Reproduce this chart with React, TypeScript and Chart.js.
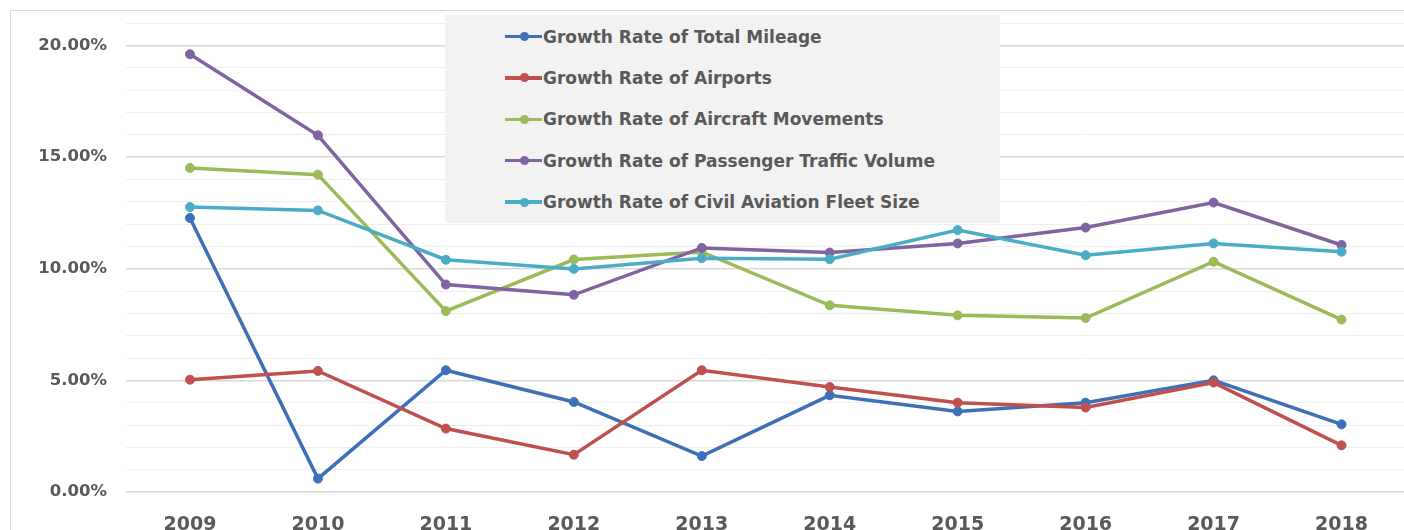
import React, { useEffect, useRef } from "react";
import { Chart, registerables } from "chart.js";

Chart.register(...registerables);

const years = ["2009", "2010", "2011", "2012", "2013", "2014", "2015", "2016", "2017", "2018"];

const totalMileage = [12.27, 0.6, 5.45, 4.03, 1.61, 4.33, 3.61, 4.0, 5.0, 3.03];
const airports = [5.03, 5.42, 2.84, 1.67, 5.45, 4.7, 4.0, 3.78, 4.9, 2.09];
const aircraftMovements = [14.51, 14.21, 8.1, 10.41, 10.75, 8.36, 7.91, 7.79, 10.31, 7.72];
const passengerTraffic = [19.6, 15.97, 9.29, 8.83, 10.93, 10.72, 11.13, 11.84, 12.96, 11.06];
const fleetSize = [12.76, 12.61, 10.4, 9.99, 10.47, 10.42, 11.73, 10.6, 11.13, 10.76];

const seriesNames = [
  "Growth Rate of Total Mileage",
  "Growth Rate of Airports",
  "Growth Rate of Aircraft Movements",
  "Growth Rate of Passenger Traffic Volume",
  "Growth Rate of Civil Aviation Fleet Size",
];
const seriesColors = ["#3D70B7", "#C0504D", "#9BBB59", "#8064A2", "#4BACC6"];
const seriesData = [totalMileage, airports, aircraftMovements, passengerTraffic, fleetSize];

const yMin = 0;
const yMax = 21;
const yStep = 1;
const yLabelEvery = 5;

const FONT = "'DejaVu Sans', sans-serif";
const TEXT_COLOR = "#595959";

export default function App() {
  const ref = useRef<HTMLCanvasElement>(null);

  useEffect(() => {
    if (!ref.current) return;
    const chart = new Chart(ref.current, {
      type: "line",
      data: {
        labels: years,
        datasets: seriesData.map((d, i) => ({
          label: seriesNames[i],
          data: d,
          borderColor: seriesColors[i],
          backgroundColor: seriesColors[i],
          pointBackgroundColor: seriesColors[i],
          pointBorderColor: seriesColors[i],
          borderWidth: 3.5,
          pointRadius: 4.5,
          pointBorderWidth: 1,
          tension: 0,
          fill: false,
          order: seriesData.length - 1 - i,
        })),
      },
      options: {
        responsive: false,
        animation: false,
        devicePixelRatio: 1,
        layout: { padding: { top: 12, right: 2, left: 0, bottom: 0 } },
        plugins: { legend: { display: false }, tooltip: { enabled: false } },
        scales: {
          x: {
            offset: true,
            grid: { display: false },
            border: { display: false },
            ticks: {
              color: TEXT_COLOR,
              font: { family: FONT, weight: "bold", size: 19 },
              padding: 14,
              maxRotation: 0,
              autoSkip: false,
            },
            afterFit: (s: any) => {
              s.height = 40;
              s.paddingLeft = 0;
              s.paddingRight = 0;
            },
          },
          y: {
            min: yMin,
            max: yMax,
            border: { display: false },
            grid: {
              drawTicks: false,
              color: (ctx: any) =>
                Math.round(ctx.tick.value) % yLabelEvery === 0 ? "#d9d9d9" : "#eeeeee",
              lineWidth: (ctx: any) => (Math.round(ctx.tick.value) % yLabelEvery === 0 ? 1.4 : 1),
            },
            ticks: {
              stepSize: yStep,
              autoSkip: false,
              padding: 19,
              color: TEXT_COLOR,
              font: { family: FONT, weight: "bold", size: 16.5 },
              callback: (v: any) =>
                Math.round(Number(v)) % yLabelEvery === 0 ? Number(v).toFixed(2) + "%" : "",
            },
            afterFit: (s: any) => {
              s.width = 115;
              s.paddingTop = 0;
              s.paddingBottom = 0;
            },
          },
        },
      },
    });
    return () => chart.destroy();
  }, []);

  return (
    <div
      style={{
        position: "fixed",
        left: 0,
        top: 0,
        width: 1404,
        height: 530,
        overflow: "hidden",
        background: "#ffffff",
      }}
    >
      <div
        style={{
          position: "absolute",
          left: 10,
          top: 10,
          width: 1500,
          height: 600,
          border: "1px solid #d9d9d9",
          boxSizing: "border-box",
        }}
      >
        <canvas
          ref={ref}
          width={1400}
          height={521}
          style={{ position: "absolute", left: 0, top: 0, width: 1400, height: 521 }}
        />
      </div>
      <div
        style={{
          position: "absolute",
          left: 445,
          top: 15,
          width: 555,
          height: 208,
          background: "#f2f2f2",
        }}
      >
        {seriesNames.map((name, i) => (
          <div
            key={name}
            style={{
              position: "absolute",
              left: 60,
              top: 21.5 + 41.4 * i - 12,
              height: 24,
              display: "flex",
              alignItems: "center",
              whiteSpace: "nowrap",
            }}
          >
            <div style={{ position: "relative", width: 38, height: 24 }}>
              <div
                style={{
                  position: "absolute",
                  left: 0,
                  top: 10.25,
                  width: 37,
                  height: 3.5,
                  background: seriesColors[i],
                }}
              />
              <div
                style={{
                  position: "absolute",
                  left: 14.5,
                  top: 7.5,
                  width: 9,
                  height: 9,
                  borderRadius: 4.5,
                  background: seriesColors[i],
                }}
              />
            </div>
            <span
              style={{
                fontFamily: FONT,
                fontWeight: "bold",
                fontSize: 17,
                lineHeight: "24px",
                color: TEXT_COLOR,
              }}
            >
              {name}
            </span>
          </div>
        ))}
      </div>
    </div>
  );
}
